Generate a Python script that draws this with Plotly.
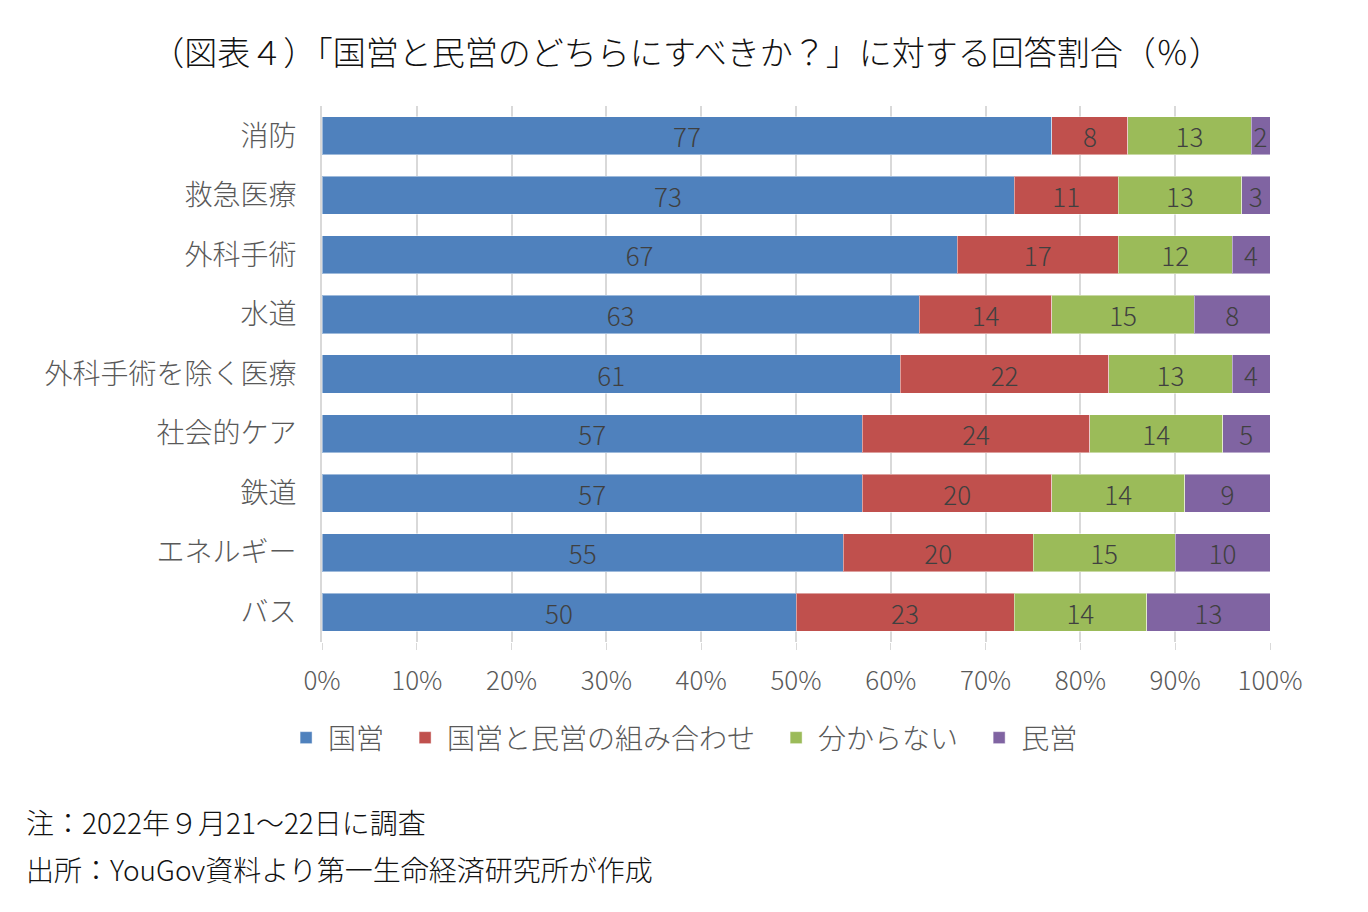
import plotly.graph_objects as go

categories = ["消防", "救急医療", "外科手術", "水道", "外科手術を除く医療",
              "社会的ケア", "鉄道", "エネルギー", "バス"]
kokuei = [77, 73, 67, 63, 61, 57, 57, 55, 50]
kumiawase = [8, 11, 17, 14, 22, 24, 20, 20, 23]
wakaranai = [13, 13, 12, 15, 13, 14, 14, 15, 14]
minei = [2, 3, 4, 8, 4, 5, 9, 10, 13]

series_names = ["国営", "国営と民営の組み合わせ", "分からない", "民営"]
colors = ["#4F81BD", "#C0504D", "#9BBB59", "#8064A2"]

FONT = "Noto Sans CJK JP"

fig = go.Figure()
for name, vals, col in zip(series_names, [kokuei, kumiawase, wakaranai, minei], colors):
    fig.add_trace(go.Bar(
        y=categories, x=vals, name=name + "\u2002", orientation="h",  # en space pads the legend entry
        marker=dict(color=col, line=dict(color="rgba(255,255,255,0.45)", width=1)),
        text=vals, textposition="inside", insidetextanchor="middle",
        textangle=0, constraintext="none",
        textfont=dict(family=FONT, size=26, color="#404040", weight=300),
    ))

# the page has an 8px body margin, so margins are shifted by 8px
fig.update_layout(
    barmode="stack",
    bargap=0.36,
    width=1368, height=912,
    margin=dict(l=314, r=106, t=98, b=278),
    paper_bgcolor="white", plot_bgcolor="white",
    font=dict(family=FONT, color="#595959"),
    title=dict(
        text="（図表４）「国営と民営のどちらにすべきか？」に対する回答割合（％）",
        x=0.496, xanchor="center", y=0.95, yanchor="middle",
        font=dict(family=FONT, size=33, color="#111111", weight=300),
    ),
    legend=dict(
        orientation="h", x=-0.04, xanchor="left", y=-0.179, yanchor="middle",
        font=dict(family=FONT, size=28, color="#595959", weight=300),
        itemwidth=34, traceorder="normal",
    ),
    showlegend=True,
)

fig.update_xaxes(
    range=[0, 100], dtick=10,
    ticksuffix="%",
    showgrid=True, gridcolor="#D9D9D9", gridwidth=1.5,
    zeroline=False,
    ticks="outside", ticklen=7, tickcolor="#D9D9D9",
    ticklabelstandoff=9,
    tickfont=dict(family=FONT, size=26, color="#595959", weight=300),
)
fig.update_yaxes(
    autorange="reversed",
    showline=True, linecolor="#D9D9D9", linewidth=2,
    ticks="", ticklabelstandoff=18,
    tickfont=dict(family=FONT, size=28, color="#595959", weight=300),
)

fig.add_annotation(
    text="注：2022年９月21～22日に調査", xref="paper", yref="paper",
    x=-0.314, y=-0.336, xanchor="left", yanchor="middle", showarrow=False,
    font=dict(family=FONT, size=28, color="#111111", weight=300),
)
fig.add_annotation(
    text="出所：YouGov資料より第一生命経済研究所が作成", xref="paper", yref="paper",
    x=-0.314, y=-0.4235, xanchor="left", yanchor="middle", showarrow=False,
    font=dict(family=FONT, size=28, color="#111111", weight=300),
)

fig.write_html("out.html")
